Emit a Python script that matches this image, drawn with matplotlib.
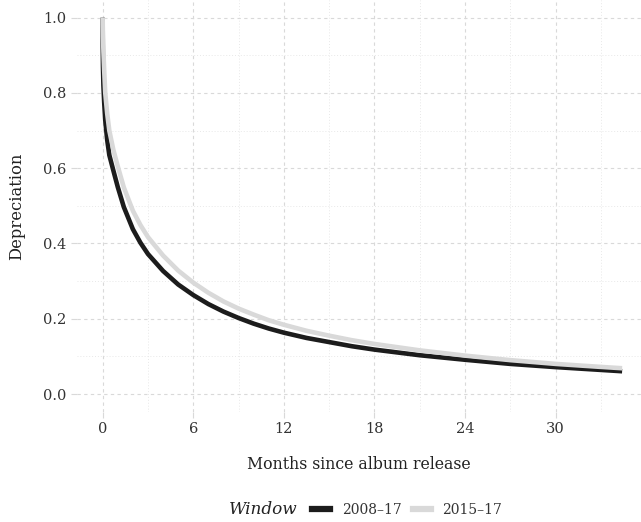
import matplotlib
matplotlib.use("Agg")
import matplotlib.pyplot as plt
from matplotlib.lines import Line2D
from matplotlib.ticker import MultipleLocator

plt.rcParams['font.family'] = ['DejaVu Serif']

# values
months = [0, 0.005, 0.02, 0.05, 0.1, 0.17, 0.3, 0.44, 0.7, 1.0, 1.4, 2.0, 2.5, 3.0, 4.0, 5.0,
          6.0, 7.0, 8.0, 9.0, 10.0, 11.0, 12.0, 13.5, 15.0, 16.5, 18, 21, 24, 27, 30, 33, 34.4]
dep_0817 = [1.0, 0.93, 0.87, 0.82, 0.775, 0.728, 0.675, 0.635, 0.595, 0.55, 0.497, 0.438, 0.402,
            0.372, 0.327, 0.291, 0.263, 0.239, 0.219, 0.202, 0.187, 0.174, 0.163, 0.149, 0.138,
            0.127, 0.118, 0.103, 0.091, 0.080, 0.0715, 0.064, 0.0605]
dep_1517 = [1.0, 0.98, 0.95, 0.91, 0.86, 0.80, 0.745, 0.70, 0.65, 0.605, 0.549, 0.487, 0.449,
            0.417, 0.368, 0.328, 0.296, 0.269, 0.246, 0.227, 0.211, 0.196, 0.184, 0.168, 0.155,
            0.143, 0.133, 0.116, 0.102, 0.090, 0.080, 0.072, 0.0685]

labels = ["2008\u201317", "2015\u201317"]
colors = ["#1c1c1c", "#d9d9d9"]

W, H = 641, 522
fig = plt.figure(figsize=(W / 100, H / 100), dpi=100)
ax = fig.add_axes([76.7 / W, 1 - 411.7 / H, 1 - 76.7 / W, 411.7 / H])

ax.plot(months, dep_0817, color=colors[0], lw=3.3, solid_capstyle='butt',
        solid_joinstyle='round', zorder=3)
ax.plot(months, dep_1517, color=colors[1], lw=3.3, solid_capstyle='butt',
        solid_joinstyle='round', zorder=4)

ax.set_xlim(-1.72, 35.65)
ax.set_ylim(-0.047, 1.047)
ax.xaxis.set_major_locator(MultipleLocator(6))
ax.xaxis.set_minor_locator(MultipleLocator(3))
ax.yaxis.set_major_locator(MultipleLocator(0.2))
ax.yaxis.set_minor_locator(MultipleLocator(0.1))
ax.yaxis.set_major_formatter(lambda v, p: f"{v:.1f}")

ax.grid(which='major', color='#d9d9d9', linestyle=(0, (3, 3)), linewidth=0.8)
ax.grid(which='minor', color='#e8e8e8', linestyle=(0, (1, 2)), linewidth=0.7)
ax.set_axisbelow(True)
for s in ax.spines.values():
    s.set_visible(False)
ax.tick_params(which='major', length=4.5, color='#d9d9d9', width=0.8,
               labelsize=10.5, labelcolor='#333333', pad=3)
ax.tick_params(which='minor', length=0)

ax.set_xlabel("Months since album release", fontsize=11.3, color='#222222', labelpad=14)
ax.set_ylabel("Depreciation", fontsize=11.8, color='#222222', labelpad=13)

handles = [Line2D([], [], color=c, lw=4.5) for c in colors]
fig.legend(handles, labels, loc='center left', bbox_to_anchor=(305 / W, 1 - 510 / H),
           ncol=2, frameon=False, fontsize=10, handlelength=1.3, handletextpad=0.85,
           columnspacing=0.8, borderpad=0, labelcolor='#333333')
fig.text(229 / W, 1 - 510 / H, "Window", fontsize=12.2, style='italic', color='#222222',
         va='center', ha='left')

fig.savefig("out.png", dpi=100)
